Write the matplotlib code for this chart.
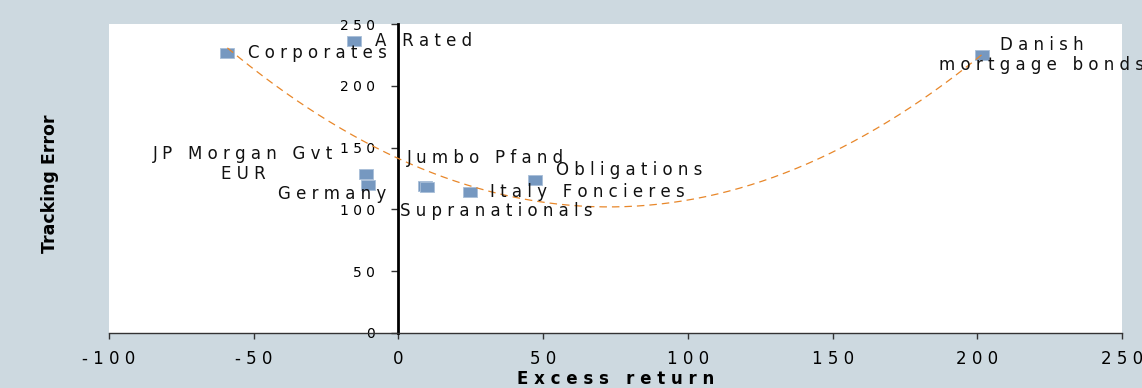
import numpy as np
import matplotlib.pyplot as plt

names = ["Corporates", "A Rated", "JP Morgan Gvt\nEUR", "Germany", "Jumbo Pfand",
         "Supranationals", "Italy Foncieres", "Obligations", "Danish\nmortgage bonds"]
excess = [-59.1, -15.2, -11.1, -10.4, 9.3, 10.0, 24.9, 47.3, 201.8]
tracking = [226.5, 236.2, 128.6, 119.7, 119.0, 118.4, 114.1, 123.8, 224.9]

x_ticks = [-100, -50, 0, 50, 100, 150, 200, 250]
y_ticks = [0, 50, 100, 150, 200, 250]

# label offsets in pixels (dx, dy, ha)
label_pos = [(21, 0, "left"), (21, 0, "left"), (-123, 10, "center"), (-36, -9, "center"),
             (60, 28, "center"), (69, -24, "center"), (20, 0, "left"), (21, 10, "left"),
             (59, 0, "center")]


def spaced(s):
    return "\n".join(" ".join(line) for line in s.split("\n"))


fig = plt.figure(figsize=(11.42, 3.88), dpi=100, facecolor="#CDD9E0")
ax = fig.add_axes([109 / 1142, 55 / 388, 1013 / 1142, 309 / 388])
ax.set_facecolor("white")

# second order trend line through the points
coef = np.polyfit(excess, tracking, 2)
xs = np.linspace(min(excess), max(excess), 200)
ax.plot(xs, np.polyval(coef, xs), color="#E8872A", lw=0.9, ls=(0, (6, 4)), zorder=3)

rect = [(-1, -0.66), (1, -0.66), (1, 0.66), (-1, 0.66), (-1, -0.66)]
ax.scatter(excess, tracking, marker=rect, s=112, color="#7698C0", edgecolor="#A9BFD8",
           linewidth=0.6, zorder=2)

for name, x, y, (dx, dy, ha) in zip(names, excess, tracking, label_pos):
    ax.annotate(spaced(name), (x, y), xytext=(dx, dy), textcoords="offset pixels",
                ha=ha, va="center", fontsize=12, color="#111111", linespacing=1.15,
                multialignment="center", zorder=4)

ax.set_xlim(-100, 250)
ax.set_ylim(0, 250)
ax.set_xticks(x_ticks)
ax.set_yticks(y_ticks)
ax.set_xticklabels([spaced(str(t)) for t in x_ticks], fontsize=12)
ax.set_yticklabels([spaced(str(t)) for t in y_ticks], fontsize=12.5)

ax.spines["left"].set_position(("data", 0))
ax.spines["left"].set_linewidth(2)
ax.spines["left"].set_color("black")
ax.spines["bottom"].set_color("#333333")
ax.spines["bottom"].set_linewidth(1)
ax.spines["top"].set_visible(False)
ax.spines["right"].set_visible(False)
ax.tick_params(axis="x", direction="out", length=4, width=1, color="#333333", pad=8)
ax.tick_params(axis="y", direction="out", length=5, width=1, color="#333333", pad=12)

ax.set_xlabel(spaced("Excess return"), fontsize=12, fontweight="bold", labelpad=2)
fig.text(50 / 1142, 1 - 184 / 388, "Tracking Error", rotation=90, ha="center", va="center",
         fontsize=12.5, fontweight="bold")

fig.savefig("out.png", dpi=100, facecolor=fig.get_facecolor())
